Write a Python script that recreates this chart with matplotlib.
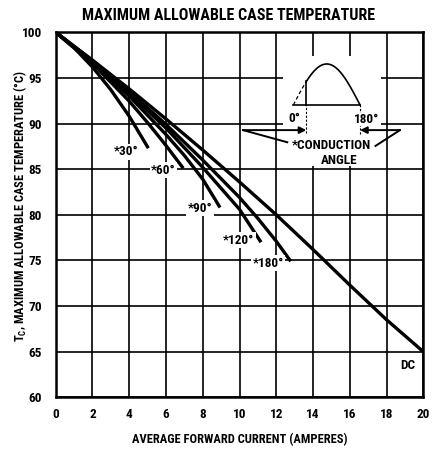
import numpy as np
import matplotlib
matplotlib.use("Agg")
import matplotlib.pyplot as plt
from matplotlib import font_manager
from matplotlib.patches import Rectangle, FancyArrowPatch

# ---------------- data ----------------
x_ticks = [0, 2, 4, 6, 8, 10, 12, 14, 16, 18, 20]
y_ticks = [60, 65, 70, 75, 80, 85, 90, 95, 100]

dc_x = [0, 2, 4, 6, 8, 10, 12, 14, 16, 18, 20]
dc_y = [100, 96.95, 93.8, 90.5, 87.1, 83.6, 80.0, 76.2, 72.3, 68.5, 65.0]

c180_x = [0, 2, 4, 6, 8, 10, 11, 12, 12.79]
c180_y = [100, 96.9, 93.5, 89.9, 86.0, 81.9, 79.6, 77.1, 74.9]

c120_x = [0, 2, 4, 6, 8, 9, 10, 11.17]
c120_y = [100, 96.85, 93.3, 89.5, 85.2, 82.9, 80.6, 77.0]

c90_x = [0, 2, 4, 6, 7, 8, 8.94]
c90_y = [100, 96.75, 93.0, 88.8, 86.5, 83.9, 80.8]

c60_x = [0, 2, 4, 5, 6, 6.94]
c60_y = [100, 96.6, 92.45, 90.1, 87.6, 85.1]

c30_x = [0, 1, 2, 3, 4, 5.04]
c30_y = [100, 98.3, 96.2, 93.7, 90.8, 87.3]

curve_labels = ["DC", "*180°", "*120°", "*90°", "*60°", "*30°"]

# ---------------- fonts ----------------
avail = {f.name for f in font_manager.fontManager.ttflist}
narrow = None
for cand in ["Liberation Sans Narrow", "Noto Sans Condensed", "Roboto Condensed",
             "DejaVu Sans Condensed", "Open Sans Condensed", "Noto Sans Display Condensed"]:
    if cand in avail:
        narrow = cand
        break
stretch = "normal"
if narrow is None:
    for f in font_manager.fontManager.ttflist:
        if f.name in ("Noto Sans", "DejaVu Sans", "Open Sans", "Roboto") and \
                str(f.stretch) in ("condensed", "semi-condensed", "extra-condensed", "75", "87.5"):
            narrow = f.name
            stretch = "condensed"
            break
if narrow is None:
    narrow = "Roboto" if "Roboto" in avail else "DejaVu Sans"
    condensed_found = False
else:
    condensed_found = True

plt.rcParams["font.family"] = [narrow, "DejaVu Sans"]
plt.rcParams["font.stretch"] = stretch
plt.rcParams["mathtext.fontset"] = "custom"
plt.rcParams["mathtext.rm"] = narrow
plt.rcParams["mathtext.bf"] = narrow + ":bold"

k = 1.0 if condensed_found else 0.86

fig = plt.figure(figsize=(4.33, 4.5), dpi=100)
ax = fig.add_axes([55.7 / 433, 1 - 397.3 / 450, (423.3 - 55.7) / 433, (397.3 - 32.3) / 450])

ax.set_xlim(0, 20)
ax.set_ylim(60, 100)
ax.set_xticks(x_ticks)
ax.set_yticks(y_ticks)
fs = 9.5 * k
ax.set_xticklabels([str(v) for v in x_ticks], fontsize=fs, fontweight="bold")
ax.set_yticklabels([str(v) for v in y_ticks], fontsize=fs, fontweight="bold")
ax.tick_params(axis="x", length=0, pad=8)
ax.tick_params(axis="y", length=0, pad=10)
ax.grid(True, color="black", linewidth=1.2)
ax.set_axisbelow(True)
for s in ax.spines.values():
    s.set_linewidth(1.8)

lw = 2.4
for xs, ys in [(dc_x, dc_y), (c180_x, c180_y), (c120_x, c120_y),
               (c90_x, c90_y), (c60_x, c60_y), (c30_x, c30_y)]:
    ax.plot(xs, ys, color="black", linewidth=lw, solid_capstyle="butt", zorder=4)

lab_kw = dict(fontsize=fs, fontweight="bold", ha="center", va="center", zorder=5,
              bbox=dict(facecolor="white", edgecolor="none", pad=1.0))
ax.text(3.86, 86.9, curve_labels[5], **lab_kw)
ax.text(5.86, 84.9, curve_labels[4], **lab_kw)
ax.text(7.85, 80.7, curve_labels[3], **lab_kw)
ax.text(9.94, 77.2, curve_labels[2], **lab_kw)
ax.text(11.57, 74.7, curve_labels[1], **lab_kw)
ax.text(19.18, 63.5, curve_labels[0], fontsize=fs, fontweight="bold",
        ha="center", va="center", zorder=5)

# ---------------- inset: conduction angle sketch ----------------
ax.add_patch(Rectangle((12.37, 85.3), 17.70 - 12.37, 97.4 - 85.3,
                       facecolor="white", edgecolor="none", zorder=2))
x0, x1, base, amp = 12.93, 16.56, 92.03, 4.5
start_deg = 35
th = np.linspace(0, 180, 200)
hx = x0 + (x1 - x0) * th / 180
hy = base + amp * np.sin(np.radians(th))
m = th <= start_deg
ax.plot(hx[m], hy[m], color="black", lw=0.9, ls=(0, (3, 2)), zorder=3)
ax.plot(hx[~m], hy[~m], color="black", lw=1.2, zorder=3)
xs_ = x0 + (x1 - x0) * start_deg / 180
ys_ = base + amp * np.sin(np.radians(start_deg))
ax.plot([x0, x1], [base, base], color="black", lw=1.2, zorder=3)
ax.plot([xs_, xs_], [base, ys_], color="black", lw=1.2, zorder=3)
ax.plot([xs_, xs_], [89.0, base], color="black", lw=0.8, ls=(0, (2, 1.5)), zorder=3)
ax.plot([x1, x1], [88.9, base], color="black", lw=0.8, ls=(0, (2, 1.5)), zorder=3)
ax.text(12.99, 90.6, "0°", fontsize=fs, fontweight="bold", ha="center", va="center", zorder=5)
ax.text(16.9, 90.45, "180°", fontsize=fs, fontweight="bold", ha="center", va="center", zorder=5,
        bbox=dict(facecolor="white", edgecolor="none", pad=0.3))
ay = 89.28
ax.add_patch(FancyArrowPatch((10.19, ay), (xs_, ay), arrowstyle="-|>", mutation_scale=10,
                             color="black", lw=1.4, shrinkA=0, shrinkB=0, zorder=5))
ax.add_patch(FancyArrowPatch((18.73, ay), (x1, ay), arrowstyle="-|>", mutation_scale=10,
                             color="black", lw=1.4, shrinkA=0, shrinkB=0, zorder=5))
ax.plot([10.19, 12.6], [ay, 87.95], color="black", lw=1.4, zorder=5)
ax.plot([18.73, 17.4], [ay, 87.55], color="black", lw=1.4, zorder=5)
ax.text(15.0, 87.6, "*CONDUCTION", fontsize=fs, fontweight="bold", ha="center", va="center", zorder=5)
ax.text(15.45, 86.0, "ANGLE", fontsize=fs, fontweight="bold", ha="center", va="center", zorder=5)

# ---------------- titles ----------------
fig.text(228 / 433, 1 - 15 / 450, "MAXIMUM ALLOWABLE CASE TEMPERATURE",
         fontsize=(11.5 if condensed_found else 9.6), fontweight="bold", ha="center", va="center")
ax.set_xlabel("AVERAGE FORWARD CURRENT (AMPERES)", fontsize=9 * k, fontweight="bold", labelpad=8)
fig.text(20 / 433, 1 - 206 / 450,
         r"T$_\mathregular{C}$, MAXIMUM ALLOWABLE CASE TEMPERATURE (°C)",
         fontsize=(9.0 if condensed_found else 7.6), fontweight="bold", rotation=90,
         ha="center", va="center")

fig.savefig("out.png", dpi=100)
